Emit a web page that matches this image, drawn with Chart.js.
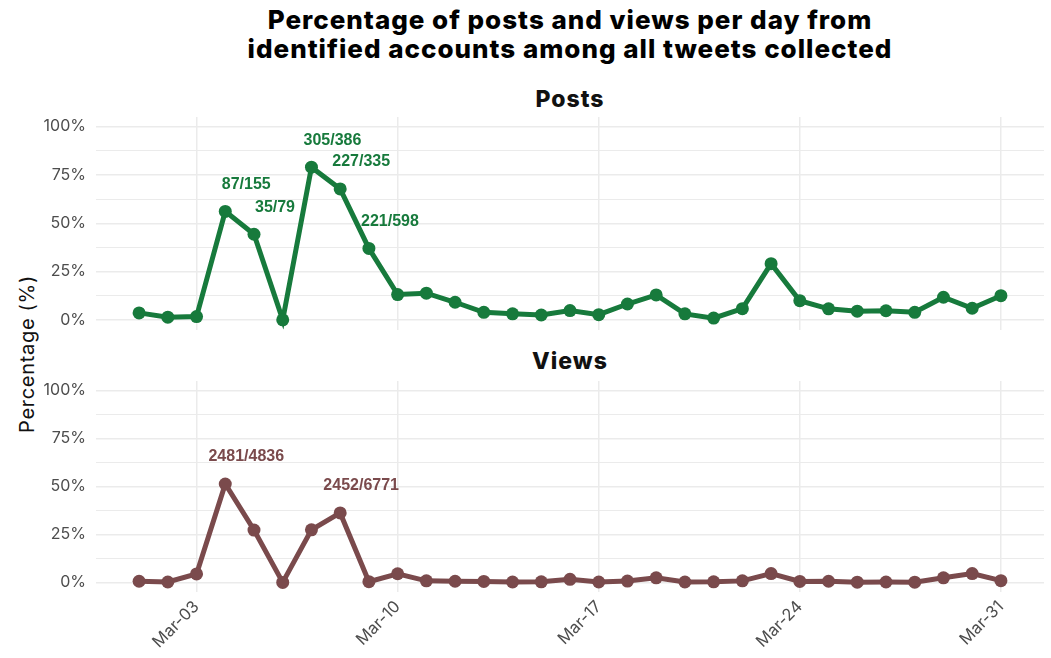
<!DOCTYPE html>
<html>
<head>
<meta charset="utf-8">
<script src="https://cdn.jsdelivr.net/npm/chart.js@4.4.1/dist/chart.umd.min.js"></script>
<style>
  html, body { margin: 0; padding: 0; background: #fff; }
  body { width: 1051px; height: 658px; position: relative; overflow: hidden; font-family: Inter, "DejaVu Sans", sans-serif; }
  #title { position: absolute; left: 96px; width: 948px; top: 5px; text-align: center; font-weight: 800; font-size: 26px; line-height: 29px; color: #000; letter-spacing: 1px; }
  .facet { position: absolute; left: 96px; width: 948px; text-align: center; font-weight: 800; font-size: 23px; color: #111; letter-spacing: 1px; }
  #ylab { position: absolute; left: 27px; top: 354px; transform: translate(-50%, -50%) rotate(-90deg); font-size: 20px; color: #111; white-space: nowrap; letter-spacing: 0.7px; }
  .panel { position: absolute; left: 0; width: 1051px; }
</style>
</head>
<body>
<div id="title">Percentage of posts and views per day from<br>identified accounts among all tweets collected</div>
<div class="facet" style="top:85px">Posts</div>
<div class="facet" style="top:347px">Views</div>
<div id="ylab">Percentage (%)</div>
<div class="panel" style="top:110px;height:226px"><canvas id="posts" width="1051" height="226"></canvas></div>
<div class="panel" style="top:370px;height:288px"><canvas id="views" width="1051" height="288"></canvas></div>

<script>
// Days of March 2024 covered by the collection
const days = ['Mar-01','Mar-02','Mar-03','Mar-04','Mar-05','Mar-06','Mar-07','Mar-08','Mar-09','Mar-10',
              'Mar-11','Mar-12','Mar-13','Mar-14','Mar-15','Mar-16','Mar-17','Mar-18','Mar-19','Mar-20',
              'Mar-21','Mar-22','Mar-23','Mar-24','Mar-25','Mar-26','Mar-27','Mar-28','Mar-29','Mar-30','Mar-31'];

// Share of posts (%) from identified accounts, per day
const postsPct = [3.6, 1.4, 1.7, 56.13, 44.30, 0.0, 79.02, 67.76, 36.96, 13.1,
                  13.8, 9.1, 3.9, 3.1, 2.5, 4.8, 2.7, 8.2, 12.9, 3.1,
                  0.9, 5.8, 29.1, 9.9, 5.7, 4.5, 4.7, 3.9, 11.7, 6.0, 12.5];

// Share of views (%) from identified accounts, per day
const viewsPct = [0.6, 0.2, 4.4, 51.30, 27.3, 0.0, 27.4, 36.21, 0.4, 4.5,
                  0.8, 0.6, 0.5, 0.2, 0.3, 1.6, 0.2, 0.7, 2.4, 0.2,
                  0.3, 0.8, 4.6, 0.5, 0.6, 0.1, 0.2, 0.1, 2.4, 4.6, 0.9];

// Count annotations (identified / total) shown above selected days
const postsNotes = [['Mar-04','87/155'], ['Mar-05','35/79'], ['Mar-07','305/386'], ['Mar-08','227/335'], ['Mar-09','221/598']];
const viewsNotes = [['Mar-04','2481/4836'], ['Mar-08','2452/6771']];

// Axis breaks
const xTickDays = ['Mar-03','Mar-10','Mar-17','Mar-24','Mar-31'];
const yMajor = [0, 25, 50, 75, 100];
const yGrid = [0, 12.5, 25, 37.5, 50, 62.5, 75, 87.5, 100];

const GREEN = '#177a3c';
const BROWN = '#7a4a4c';
const GRID = '#ebebeb';
const TICK = '#4d4d4d';

const dayPos = d => days.indexOf(d) + 1;

const noteLabels = {
  id: 'noteLabels',
  afterDatasetsDraw(chart, args, opts) {
    const meta = chart.getDatasetMeta(0);
    const ctx = chart.ctx;
    ctx.save();
    ctx.font = 'bold 16px "Liberation Sans", Arial, sans-serif';
    ctx.fillStyle = opts.color;
    ctx.textAlign = 'center';
    ctx.textBaseline = 'middle';
    opts.notes.forEach(([day, text]) => {
      const pt = meta.data[days.indexOf(day)];
      ctx.fillText(text, pt.x + 21, pt.y - 27);
    });
    ctx.restore();
  }
};

function panel(id, values, notes, color, showX, padTop, xHeight) {
  return new Chart(document.getElementById(id), {
    type: 'line',
    data: {
      datasets: [{
        data: values.map((v, i) => ({ x: dayPos(days[i]), y: v })),
        borderColor: color,
        backgroundColor: color,
        borderWidth: 5,
        pointRadius: 6.5,
        pointHoverRadius: 6.5,
        pointBorderWidth: 0,
        tension: 0
      }]
    },
    options: {
      responsive: false,
      animation: false,
      layout: { padding: { top: padTop, right: 7, bottom: 0, left: 0 } },
      plugins: {
        legend: { display: false },
        tooltip: { enabled: false },
        noteLabels: { notes: notes, color: color }
      },
      scales: {
        x: {
          type: 'linear',
          min: -0.5,
          max: 32.5,
          border: { display: false },
          grid: { color: GRID, lineWidth: 1.5, drawTicks: false },
          afterBuildTicks: s => { s.ticks = xTickDays.map(d => ({ value: dayPos(d) })); },
          afterFit: s => { s.height = xHeight; s.paddingLeft = 0; s.paddingRight = 0; },
          ticks: {
            display: showX,
            autoSkip: false,
            minRotation: 45,
            maxRotation: 45,
            padding: 5,
            color: TICK,
            font: { family: 'Inter', size: 16.5 },
            callback: v => days[v - 1]
          }
        },
        y: {
          min: -5,
          max: 105,
          border: { display: false },
          grid: {
            color: GRID,
            drawTicks: false,
            lineWidth: c => (yMajor.includes(c.tick.value) ? 1.5 : 1)
          },
          afterBuildTicks: s => { s.ticks = yGrid.map(v => ({ value: v })); },
          afterFit: s => { s.width = 96; s.paddingTop = 0; s.paddingBottom = 0; },
          ticks: {
            autoSkip: false,
            padding: 10,
            color: TICK,
            font: { family: 'Inter', size: 16 },
            callback: v => (yMajor.includes(v) ? v + '%' : '')
          }
        }
      }
    },
    plugins: [noteLabels]
  });
}

panel('posts', postsPct, postsNotes, GREEN, false, 7, 1);
panel('views', viewsPct, viewsNotes, BROWN, true, 11, 66);
</script>
</body>
</html>
